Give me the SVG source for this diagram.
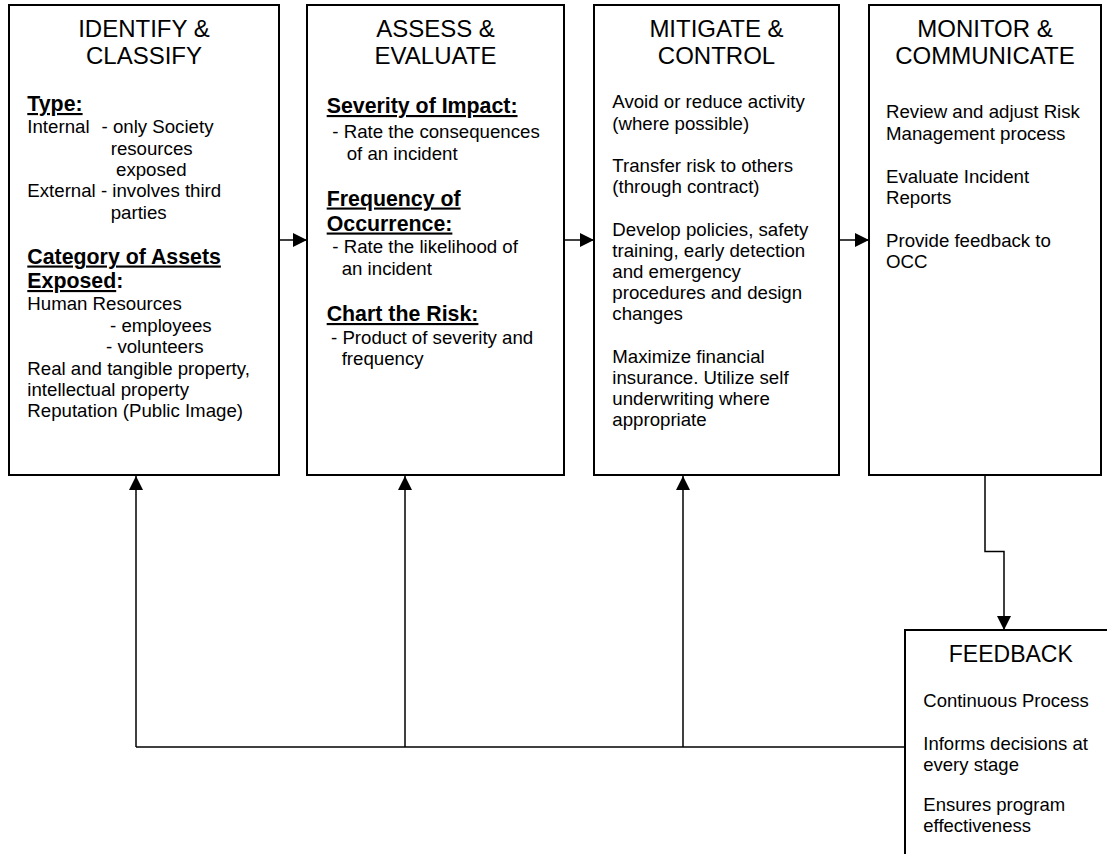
<svg xmlns="http://www.w3.org/2000/svg" width="1107" height="854" viewBox="0 0 1107 854">
<style>
text{font-family:"Liberation Sans",Arial,sans-serif;fill:#000}
.box{fill:#fff;stroke:#000;stroke-width:2}
.t{font-size:24px;text-anchor:middle}
.b{font-size:18.67px}
.h{font-size:21.33px;font-weight:bold}
.u{text-decoration:underline}
.f{font-size:18.5px}
.c{fill:none;stroke:#000;stroke-width:1.5}
</style>
<defs>
<marker id="ah" viewBox="0 0 14 14" refX="14" refY="7" markerWidth="14" markerHeight="14" markerUnits="userSpaceOnUse" orient="auto">
<path d="M0,0 L14,7 L0,14 Z" fill="#000"/>
</marker>
</defs>
<g id="connectors">
<line class="c" x1="279" y1="240" x2="307" y2="240" marker-end="url(#ah)"/>
<line class="c" x1="564" y1="240" x2="594" y2="240" marker-end="url(#ah)"/>
<line class="c" x1="839" y1="240" x2="869" y2="240" marker-end="url(#ah)"/>
<polyline class="c" points="985,475 985,551.5 1004,551.5 1004,630" marker-end="url(#ah)"/>
<line class="c" x1="905" y1="747" x2="136" y2="747"/>
<line class="c" x1="136" y1="747" x2="136" y2="476" marker-end="url(#ah)"/>
<line class="c" x1="405" y1="747" x2="405" y2="476" marker-end="url(#ah)"/>
<line class="c" x1="683" y1="747" x2="683" y2="476" marker-end="url(#ah)"/>
</g>
<g id="identify">
<rect class="box" x="9" y="5" width="270" height="470"/>
<text class="t" x="144" y="37">IDENTIFY &amp;</text>
<text class="t" x="144" y="63.5">CLASSIFY</text>
<text class="h u" x="27.3" y="111">Type:</text>
<text class="b" x="27.3" y="133.3">Internal</text>
<text class="b" x="101.5" y="133.3">- only Society</text>
<text class="b" x="110.7" y="154.6">resources</text>
<text class="b" x="116" y="175.9">exposed</text>
<text class="b" x="27.3" y="197.2">External - involves third</text>
<text class="b" x="110.7" y="218.5">parties</text>
<text class="h u" x="27.3" y="263.5">Category of Assets</text>
<text class="h" x="27.3" y="288"><tspan class="u">Exposed</tspan>:</text>
<text class="b" x="27.3" y="310">Human Resources</text>
<text class="b" x="110" y="331.5">- employees</text>
<text class="b" x="106" y="353">- volunteers</text>
<text class="b" x="27.3" y="374.5">Real and tangible property,</text>
<text class="b" x="27.3" y="396">intellectual property</text>
<text class="b" x="27.3" y="417.3">Reputation (Public Image)</text>
</g>
<g id="assess">
<rect class="box" x="307" y="5" width="257" height="470"/>
<text class="t" x="435.5" y="37">ASSESS &amp;</text>
<text class="t" x="435.5" y="63.5">EVALUATE</text>
<text class="h u" x="326.7" y="113">Severity of Impact:</text>
<text class="b" x="332.3" y="138.3">- Rate the consequences</text>
<text class="b" x="346.7" y="160">of an incident</text>
<text class="h u" x="326.7" y="205.5">Frequency of</text>
<text class="h u" x="326.7" y="230.5">Occurrence:</text>
<text class="b" x="332.3" y="253.3">- Rate the likelihood of</text>
<text class="b" x="341.7" y="275">an incident</text>
<text class="h u" x="326.7" y="321">Chart the Risk:</text>
<text class="b" x="331" y="344">- Product of severity and</text>
<text class="b" x="341.7" y="365">frequency</text>
</g>
<g id="mitigate">
<rect class="box" x="594" y="5" width="245" height="470"/>
<text class="t" x="716.5" y="37">MITIGATE &amp;</text>
<text class="t" x="716.5" y="63.5">CONTROL</text>
<text class="b" x="612.3" y="108.3">Avoid or reduce activity</text>
<text class="b" x="612.3" y="129.5">(where possible)</text>
<text class="b" x="612.3" y="171.9">Transfer risk to others</text>
<text class="b" x="612.3" y="193.1">(through contract)</text>
<text class="b" x="612.3" y="235.5">Develop policies, safety</text>
<text class="b" x="612.3" y="256.7">training, early detection</text>
<text class="b" x="612.3" y="277.9">and emergency</text>
<text class="b" x="612.3" y="299.1">procedures and design</text>
<text class="b" x="612.3" y="320.3">changes</text>
<text class="b" x="612.3" y="362.7">Maximize financial</text>
<text class="b" x="612.3" y="383.9">insurance. Utilize self</text>
<text class="b" x="612.3" y="405.1">underwriting where</text>
<text class="b" x="612.3" y="426.3">appropriate</text>
</g>
<g id="monitor">
<rect class="box" x="869" y="5" width="232" height="470"/>
<text class="t" x="985" y="37">MONITOR &amp;</text>
<text class="t" x="985" y="63.5">COMMUNICATE</text>
<text class="b" x="886" y="118.3">Review and adjust Risk</text>
<text class="b" x="886" y="139.8">Management process</text>
<text class="b" x="886" y="182.7">Evaluate Incident</text>
<text class="b" x="886" y="204.2">Reports</text>
<text class="b" x="886" y="246.7">Provide feedback to</text>
<text class="b" x="886" y="268.2">OCC</text>
</g>
<g id="feedback">
<rect class="box" x="905" y="630" width="220" height="240"/>
<text class="t" x="1010.8" y="661.7" style="font-size:23px">FEEDBACK</text>
<text class="f" x="923.3" y="706.7">Continuous Process</text>
<text class="f" x="923.3" y="750">Informs decisions at</text>
<text class="f" x="923.3" y="770.7">every stage</text>
<text class="f" x="923.3" y="810.7">Ensures program</text>
<text class="f" x="923.3" y="831.7">effectiveness</text>
</g>
</svg>
